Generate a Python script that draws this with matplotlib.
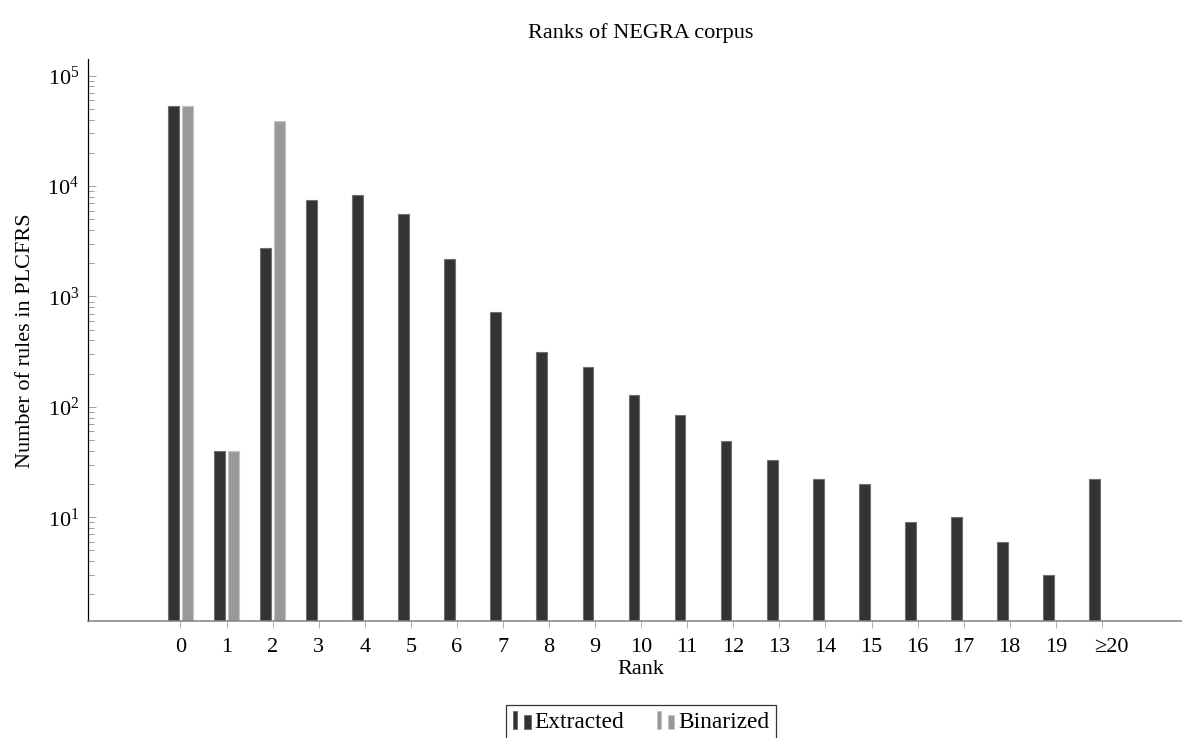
import matplotlib
matplotlib.use("Agg")
import matplotlib.pyplot as plt
import numpy as np
from matplotlib.patches import Rectangle
from matplotlib.legend_handler import HandlerBase
from matplotlib.ticker import LogLocator, NullFormatter
import matplotlib.transforms as mtransforms

# ---- data ----
ranks = ["0", "1", "2", "3", "4", "5", "6", "7", "8", "9", "10", "11", "12",
         "13", "14", "15", "16", "17", "18", "19", "≥20"]
extracted = [53000, 40, 2750, 7450, 8350, 5550, 2200, 720, 315, 230, 128, 84, 49,
             33, 22, 20, 9, 10, 6, 3, 22]
binarized_ranks = [0, 1, 2]
binarized = [53000, 40, 39000]

title = "Ranks of NEGRA corpus"
xlabel = "Rank"
ylabel = "Number of rules in PLCFRS"
series_names = ["Extracted", "Binarized"]

# ---- style ----
plt.rcParams['font.family'] = ['Liberation Serif', 'DejaVu Serif']
plt.rcParams['mathtext.fontset'] = 'custom'
plt.rcParams['mathtext.rm'] = 'Liberation Serif'
plt.rcParams['mathtext.it'] = 'Liberation Serif:italic'
plt.rcParams['mathtext.bf'] = 'Liberation Serif:bold'
FS = 16

W, H = 1182, 738
fig = plt.figure(figsize=(W / 100, H / 100), dpi=100)
left_px, right_px, top_px, bot_px = 88.3, 1194.0, 59.3, 621.3
ax = fig.add_axes([left_px / W, 1 - bot_px / H, (right_px - left_px) / W, (bot_px - top_px) / H])

dark, dark_edge = '#333333', '#707070'
light, light_edge = '#999999', '#c4c4c4'
bw = 0.232
off = 0.156

x = np.arange(len(ranks))
ax.bar(x - off, extracted, width=bw, color=dark, edgecolor=dark_edge, linewidth=0.8,
       label=series_names[0], zorder=2)
ax.bar(np.array(binarized_ranks) + off, binarized, width=bw, color=light,
       edgecolor=light_edge, linewidth=0.8, label=series_names[1], zorder=2)

ax.set_yscale('log')
ax.set_ylim(1.14, 1.41e5)
ax.set_xlim(-2, 22)

ax.set_xticks(x)
ax.set_xticklabels(ranks, fontsize=FS)
ax.tick_params(axis='x', direction='out', length=5, width=0.7, color='#b0b0b0', pad=7)
ax.tick_params(axis='y', which='major', direction='in', length=5.8, width=0.7,
               color='#a0a0a0', pad=6.5, labelsize=FS)
ax.tick_params(axis='y', which='minor', direction='in', length=4.3, width=0.7, color='#a0a0a0')
ax.yaxis.set_major_locator(LogLocator(base=10, numticks=10))
ax.yaxis.set_minor_locator(LogLocator(base=10, subs=np.arange(2, 10), numticks=20))
ax.yaxis.set_minor_formatter(NullFormatter())

# shift the last tick label slightly to the right as in the reference
lbl = ax.get_xticklabels()[-1]
lbl.set_transform(lbl.get_transform() + mtransforms.ScaledTranslation(10 / 100, 0, fig.dpi_scale_trans))

for s in ['top', 'right']:
    ax.spines[s].set_visible(False)
ax.spines['left'].set_color('black')
ax.spines['left'].set_linewidth(0.9)
ax.spines['bottom'].set_color('#808080')
ax.spines['bottom'].set_linewidth(1.1)

ax.set_title(title, fontsize=FS, y=(bot_px - 38) / (bot_px - top_px), va='baseline', pad=0)
ax.set_xlabel(xlabel, fontsize=FS, va='baseline')
ax.xaxis.set_label_coords(0.5, (bot_px - 674) / (bot_px - top_px))
ax.set_ylabel(ylabel, fontsize=FS, va='center')
ax.yaxis.set_label_coords((26 - left_px) / (right_px - left_px), 0.5)


class TwoBarHandler(HandlerBase):
    def create_artists(self, legend, orig_handle, xdescent, ydescent, width, height,
                       fontsize, trans):
        p = orig_handle.patches[0]
        fc = p.get_facecolor()
        ec = p.get_edgecolor()
        x0, y0 = -xdescent, -ydescent
        r1 = Rectangle((x0 + 0.0 * width, y0), 0.22 * width, height * 1.0,
                       facecolor=fc, edgecolor=ec, linewidth=0.7, transform=trans)
        r2 = Rectangle((x0 + 0.62 * width, y0), 0.36 * width, height * 0.78,
                       facecolor=fc, edgecolor=ec, linewidth=0.7, transform=trans)
        return [r1, r2]


handles, labels = ax.get_legend_handles_labels()
hmap = {h: TwoBarHandler() for h in handles}
LFS = 16.8
leg = fig.legend(handles, labels, handler_map=hmap, loc='upper center',
                 bbox_to_anchor=(641 / W, 1 - 704.7 / H), ncol=2, fontsize=LFS,
                 frameon=True, fancybox=False, framealpha=1, edgecolor='#333333',
                 handlelength=0.78, handleheight=0.82, handletextpad=0.14,
                 columnspacing=1.4, borderpad=0.27, borderaxespad=0)
leg.get_frame().set_linewidth(0.9)

fig.savefig("out.png", dpi=100)
